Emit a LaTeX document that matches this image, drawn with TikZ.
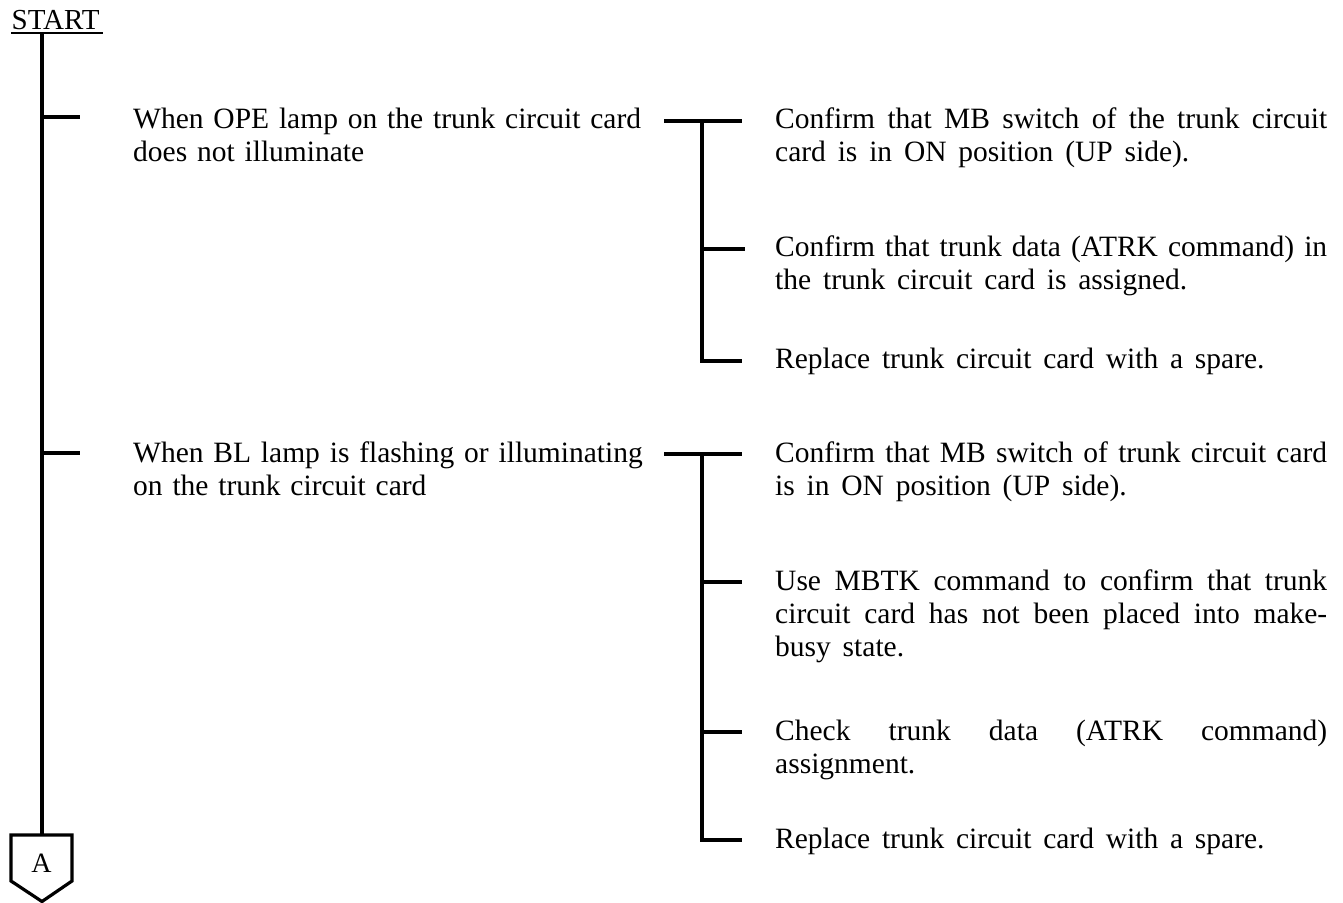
\documentclass[tikz,border=0pt]{standalone}
\usepackage{fontspec}
\setmainfont{Liberation Serif}[WordSpace={1.6,1.2,1}]
\begin{document}
\begin{tikzpicture}[x=1pt,y=-1pt,
  ln/.style={line width=3.2pt},
  lbl/.style={anchor=base west,inner sep=0pt,text width=540pt,align=left,font=\fontsize{29.5}{33}\selectfont},
  rbl/.style={anchor=base west,inner sep=0pt,text width=552pt,align=justify,font=\fontsize{29.5}{33}\selectfont}]
\useasboundingbox (0,0) rectangle (1343,902);
% start
\node[anchor=base west,inner sep=0pt,font=\fontsize{29}{33}\selectfont] (start) at (11.5,29) {START};
\coordinate (ul1) at (11,33);
\coordinate (ul2) at (103,33);
\draw[line width=1.6pt] (ul1) -- (ul2);
\coordinate (top) at (42,33);
\coordinate (m1) at (42,117);
\coordinate (m1e) at (80,117);
\coordinate (m2) at (42,453);
\coordinate (m2e) at (80,453);
\coordinate (atop) at (42,835);
% pentagon
\draw[ln,line join=miter] (11,835) -- (72,835) -- (72,881) -- (42,901.5) -- (11,881) -- cycle;
\node[inner sep=0pt,font=\fontsize{28}{30}\selectfont] (A) at (41.5,863) {A};
\draw[ln] (top) -- (atop);
\draw[ln] (m1) -- (m1e);
\draw[ln] (m2) -- (m2e);
% left texts
\node[lbl] (c1) at (133,128) {When OPE lamp on the trunk circuit card\\does not illuminate};
\node[lbl] (c2) at (133,462) {When BL lamp is flashing or illuminating\\on the trunk circuit card};
% group 1
\coordinate (g1a) at (664,121);
\coordinate (g1b) at (742,121);
\coordinate (g1v) at (702,121);
\coordinate (g1t2) at (702,249);
\coordinate (g1t2e) at (745,249);
\coordinate (g1bot) at (702,361);
\coordinate (g1bote) at (742,361);
\draw[ln] (g1a) -- (g1b);
\draw[ln,line join=miter] (g1v) -- (g1bot) -- (g1bote);
\draw[ln] (g1t2) -- (g1t2e);
\node[rbl] (r11) at (775,128) {Confirm that MB switch of the trunk circuit\linebreak card is in ON position (UP side).};
\node[rbl] (r12) at (775,256) {Confirm that trunk data (ATRK command) in\linebreak the trunk circuit card is assigned.};
\node[rbl] (r13) at (775,368) {Replace trunk circuit card with a spare.};
% group 2
\coordinate (g2a) at (664,454);
\coordinate (g2b) at (742,454);
\coordinate (g2v) at (702,454);
\coordinate (g2t2) at (702,582);
\coordinate (g2t2e) at (742,582);
\coordinate (g2t3) at (702,732);
\coordinate (g2t3e) at (742,732);
\coordinate (g2bot) at (702,840);
\coordinate (g2bote) at (742,840);
\draw[ln] (g2a) -- (g2b);
\draw[ln,line join=miter] (g2v) -- (g2bot) -- (g2bote);
\draw[ln] (g2t2) -- (g2t2e);
\draw[ln] (g2t3) -- (g2t3e);
\node[rbl] (r21) at (775,462) {Confirm that MB switch of trunk circuit card\linebreak is in ON position (UP side).};
\node[rbl] (r22) at (775,590) {Use MBTK command to confirm that trunk\linebreak circuit card has not been placed into make-\linebreak busy state.};
\node[rbl] (r23) at (775,740) {Check trunk data (ATRK command)\linebreak assignment.};
\node[rbl] (r24) at (775,848) {Replace trunk circuit card with a spare.};
\end{tikzpicture}
\end{document}
